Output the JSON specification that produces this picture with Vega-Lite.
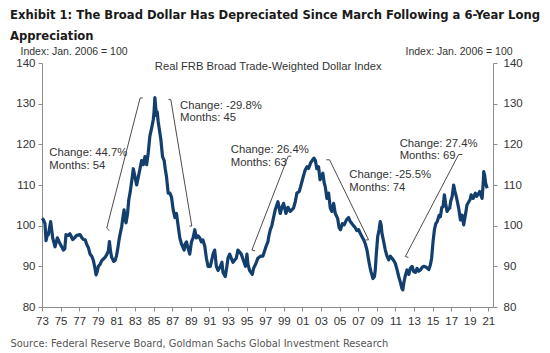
{
  "$schema": "https://vega.github.io/schema/vega-lite/v6.json",
  "width": 451,
  "height": 244,
  "autosize": "none",
  "padding": {"left": 42, "top": 63, "right": 57, "bottom": 46},
  "background": "white",
  "title": {
    "text": ["Exhibit 1: The Broad Dollar Has Depreciated Since March Following a 6-Year Long", "Appreciation"],
    "anchor": "start",
    "frame": "group",
    "dx": -32,
    "font": "DejaVu Sans Condensed, Liberation Sans",
    "fontWeight": "bold",
    "fontSize": 12.9,
    "lineHeight": 21,
    "color": "#1a1a1a",
    "offset": 3
  },
  "config": {
    "view": {"stroke": null},
    "axis": {
      "grid": false,
      "labelFont": "Liberation Sans",
      "labelFontSize": 11.5,
      "labelColor": "#333333",
      "domainColor": "#8c8c8c",
      "tickColor": "#8c8c8c",
      "tickSize": 4,
      "titleFont": "Liberation Sans",
      "titleFontSize": 10.5,
      "titleFontWeight": "normal",
      "titleColor": "#333333"
    }
  },
  "datasets": {
    "series": [
      {"year": 1973.0, "value": 101.8}, {"year": 1973.14, "value": 101.5}, {"year": 1973.32, "value": 100.5}, {"year": 1973.43, "value": 96.3},
      {"year": 1973.55, "value": 97.5}, {"year": 1973.68, "value": 97.8}, {"year": 1973.85, "value": 100}, {"year": 1973.93, "value": 101},
      {"year": 1974.15, "value": 97}, {"year": 1974.4, "value": 94.8}, {"year": 1974.65, "value": 97}, {"year": 1974.85, "value": 96},
      {"year": 1975.0, "value": 95.3}, {"year": 1975.3, "value": 94}, {"year": 1975.45, "value": 94.3}, {"year": 1975.58, "value": 97.8},
      {"year": 1975.8, "value": 97.6}, {"year": 1976.0, "value": 98}, {"year": 1976.3, "value": 96.6}, {"year": 1976.5, "value": 97},
      {"year": 1976.73, "value": 97.6}, {"year": 1977.09, "value": 97.8}, {"year": 1977.3, "value": 97}, {"year": 1977.45, "value": 96.6},
      {"year": 1977.65, "value": 96.5}, {"year": 1977.81, "value": 95.4}, {"year": 1978.0, "value": 94.5}, {"year": 1978.17, "value": 93},
      {"year": 1978.35, "value": 92.5}, {"year": 1978.53, "value": 91.4}, {"year": 1978.7, "value": 89.5}, {"year": 1978.81, "value": 87.9},
      {"year": 1978.95, "value": 88.8}, {"year": 1979.06, "value": 90}, {"year": 1979.25, "value": 90.5}, {"year": 1979.42, "value": 91.4},
      {"year": 1979.6, "value": 91.8}, {"year": 1979.78, "value": 92.2}, {"year": 1979.95, "value": 92.8}, {"year": 1980.14, "value": 93.8},
      {"year": 1980.25, "value": 96.1}, {"year": 1980.38, "value": 93.5}, {"year": 1980.5, "value": 92.2}, {"year": 1980.7, "value": 91.2},
      {"year": 1980.86, "value": 91.4}, {"year": 1981.0, "value": 92.5}, {"year": 1981.11, "value": 93.8}, {"year": 1981.32, "value": 97},
      {"year": 1981.57, "value": 99.8}, {"year": 1981.7, "value": 102}, {"year": 1981.83, "value": 103.9}, {"year": 1981.95, "value": 101.5},
      {"year": 1982.04, "value": 100.7}, {"year": 1982.2, "value": 103}, {"year": 1982.33, "value": 106.3}, {"year": 1982.5, "value": 108.5},
      {"year": 1982.65, "value": 111}, {"year": 1982.82, "value": 114}, {"year": 1983.0, "value": 112}, {"year": 1983.18, "value": 110},
      {"year": 1983.36, "value": 112}, {"year": 1983.54, "value": 114}, {"year": 1983.71, "value": 116}, {"year": 1983.89, "value": 115},
      {"year": 1984.07, "value": 117}, {"year": 1984.25, "value": 115}, {"year": 1984.43, "value": 118}, {"year": 1984.6, "value": 122},
      {"year": 1984.79, "value": 124}, {"year": 1984.96, "value": 126}, {"year": 1985.05, "value": 128}, {"year": 1985.14, "value": 131.5},
      {"year": 1985.25, "value": 128.5}, {"year": 1985.32, "value": 127}, {"year": 1985.39, "value": 128}, {"year": 1985.5, "value": 125.5},
      {"year": 1985.6, "value": 124}, {"year": 1985.79, "value": 121}, {"year": 1985.96, "value": 117}, {"year": 1986.14, "value": 116},
      {"year": 1986.25, "value": 114}, {"year": 1986.39, "value": 112}, {"year": 1986.57, "value": 108}, {"year": 1986.75, "value": 108},
      {"year": 1986.93, "value": 107}, {"year": 1987.1, "value": 104}, {"year": 1987.29, "value": 102}, {"year": 1987.46, "value": 103},
      {"year": 1987.64, "value": 100}, {"year": 1987.82, "value": 97}, {"year": 1988.0, "value": 95.5}, {"year": 1988.1, "value": 95},
      {"year": 1988.29, "value": 94}, {"year": 1988.4, "value": 95.5}, {"year": 1988.54, "value": 96}, {"year": 1988.7, "value": 94.5},
      {"year": 1988.89, "value": 93}, {"year": 1989.07, "value": 96}, {"year": 1989.25, "value": 97}, {"year": 1989.43, "value": 99},
      {"year": 1989.6, "value": 97}, {"year": 1989.78, "value": 97.5}, {"year": 1989.96, "value": 97}, {"year": 1990.14, "value": 96},
      {"year": 1990.3, "value": 96.5}, {"year": 1990.5, "value": 95}, {"year": 1990.68, "value": 92}, {"year": 1990.86, "value": 90},
      {"year": 1991.1, "value": 90}, {"year": 1991.25, "value": 91.5}, {"year": 1991.39, "value": 93}, {"year": 1991.57, "value": 94},
      {"year": 1991.75, "value": 90}, {"year": 1991.93, "value": 89}, {"year": 1992.18, "value": 90}, {"year": 1992.35, "value": 91},
      {"year": 1992.46, "value": 88.5}, {"year": 1992.71, "value": 87.5}, {"year": 1992.85, "value": 89.5}, {"year": 1993.0, "value": 92},
      {"year": 1993.18, "value": 93}, {"year": 1993.35, "value": 92}, {"year": 1993.54, "value": 91}, {"year": 1993.7, "value": 91.5},
      {"year": 1993.89, "value": 92}, {"year": 1994.07, "value": 94}, {"year": 1994.25, "value": 93.5}, {"year": 1994.43, "value": 93},
      {"year": 1994.65, "value": 91.5}, {"year": 1994.89, "value": 90}, {"year": 1995.04, "value": 93}, {"year": 1995.15, "value": 90.5},
      {"year": 1995.32, "value": 89}, {"year": 1995.61, "value": 88}, {"year": 1995.75, "value": 89.5}, {"year": 1995.86, "value": 90},
      {"year": 1996.05, "value": 91}, {"year": 1996.21, "value": 92}, {"year": 1996.5, "value": 92.5}, {"year": 1996.75, "value": 92.5},
      {"year": 1996.9, "value": 93.5}, {"year": 1997.11, "value": 95}, {"year": 1997.29, "value": 96}, {"year": 1997.4, "value": 97.5},
      {"year": 1997.55, "value": 99}, {"year": 1997.7, "value": 99.8}, {"year": 1997.85, "value": 101.5}, {"year": 1998.08, "value": 103.9},
      {"year": 1998.37, "value": 105.9}, {"year": 1998.62, "value": 103}, {"year": 1998.8, "value": 104.5}, {"year": 1998.98, "value": 105.5},
      {"year": 1999.23, "value": 103}, {"year": 1999.45, "value": 104.5}, {"year": 1999.7, "value": 103.5}, {"year": 2000.05, "value": 104.3},
      {"year": 2000.25, "value": 106}, {"year": 2000.41, "value": 108}, {"year": 2000.66, "value": 108.4}, {"year": 2000.8, "value": 109.5},
      {"year": 2000.95, "value": 110.8}, {"year": 2001.15, "value": 112.5}, {"year": 2001.3, "value": 113.7}, {"year": 2001.5, "value": 114.5},
      {"year": 2001.67, "value": 114.1}, {"year": 2001.9, "value": 115.5}, {"year": 2002.1, "value": 116.2}, {"year": 2002.25, "value": 116.6},
      {"year": 2002.4, "value": 116}, {"year": 2002.55, "value": 114}, {"year": 2002.74, "value": 114.5}, {"year": 2002.9, "value": 111.3},
      {"year": 2003.05, "value": 112}, {"year": 2003.2, "value": 112.9}, {"year": 2003.35, "value": 110.5}, {"year": 2003.46, "value": 109.6},
      {"year": 2003.64, "value": 106.7}, {"year": 2003.82, "value": 108}, {"year": 2004.0, "value": 104.3}, {"year": 2004.18, "value": 103.5},
      {"year": 2004.36, "value": 105.5}, {"year": 2004.54, "value": 103}, {"year": 2004.79, "value": 101.8}, {"year": 2004.95, "value": 99.5},
      {"year": 2005.1, "value": 99}, {"year": 2005.3, "value": 100.5}, {"year": 2005.5, "value": 100.2}, {"year": 2005.75, "value": 101.5},
      {"year": 2005.97, "value": 102}, {"year": 2006.15, "value": 101}, {"year": 2006.33, "value": 100.5}, {"year": 2006.5, "value": 100},
      {"year": 2006.69, "value": 99.5}, {"year": 2006.85, "value": 98.8}, {"year": 2007.05, "value": 99}, {"year": 2007.25, "value": 98},
      {"year": 2007.41, "value": 97.3}, {"year": 2007.6, "value": 96.5}, {"year": 2007.77, "value": 95.5}, {"year": 2007.95, "value": 94},
      {"year": 2008.13, "value": 91.5}, {"year": 2008.25, "value": 90}, {"year": 2008.38, "value": 88.7}, {"year": 2008.59, "value": 87},
      {"year": 2008.75, "value": 87.5}, {"year": 2008.84, "value": 89.1}, {"year": 2008.95, "value": 93}, {"year": 2009.1, "value": 97.3},
      {"year": 2009.25, "value": 99}, {"year": 2009.38, "value": 101}, {"year": 2009.48, "value": 100}, {"year": 2009.56, "value": 98.1},
      {"year": 2009.75, "value": 96}, {"year": 2009.92, "value": 94}, {"year": 2010.1, "value": 92.5}, {"year": 2010.28, "value": 91.6},
      {"year": 2010.45, "value": 92.5}, {"year": 2010.64, "value": 92}, {"year": 2010.8, "value": 91.5}, {"year": 2011.0, "value": 90.7},
      {"year": 2011.2, "value": 89}, {"year": 2011.36, "value": 87.5}, {"year": 2011.55, "value": 86}, {"year": 2011.71, "value": 84.5},
      {"year": 2011.8, "value": 84.2}, {"year": 2011.9, "value": 85.8}, {"year": 2012.05, "value": 87.5}, {"year": 2012.25, "value": 89.1},
      {"year": 2012.45, "value": 88}, {"year": 2012.61, "value": 89.5}, {"year": 2012.8, "value": 90}, {"year": 2012.97, "value": 88.7},
      {"year": 2013.15, "value": 88.5}, {"year": 2013.33, "value": 89.5}, {"year": 2013.5, "value": 88.8}, {"year": 2013.69, "value": 89.1},
      {"year": 2013.9, "value": 89.8}, {"year": 2014.05, "value": 90}, {"year": 2014.23, "value": 89.9}, {"year": 2014.45, "value": 89.5},
      {"year": 2014.6, "value": 89.2}, {"year": 2014.76, "value": 90.3}, {"year": 2014.9, "value": 92}, {"year": 2015.05, "value": 96},
      {"year": 2015.2, "value": 99}, {"year": 2015.35, "value": 100.5}, {"year": 2015.5, "value": 101}, {"year": 2015.7, "value": 102.5},
      {"year": 2015.84, "value": 102.2}, {"year": 2016.0, "value": 104.5}, {"year": 2016.13, "value": 104.7}, {"year": 2016.27, "value": 107.6},
      {"year": 2016.4, "value": 105.5}, {"year": 2016.56, "value": 103.5}, {"year": 2016.7, "value": 104}, {"year": 2016.84, "value": 104.3},
      {"year": 2016.95, "value": 106}, {"year": 2017.1, "value": 107.1}, {"year": 2017.27, "value": 110}, {"year": 2017.4, "value": 108.5},
      {"year": 2017.56, "value": 107.1}, {"year": 2017.7, "value": 105.5}, {"year": 2017.81, "value": 104.3}, {"year": 2018.0, "value": 101.4},
      {"year": 2018.17, "value": 102.6}, {"year": 2018.35, "value": 100.2}, {"year": 2018.53, "value": 102.6}, {"year": 2018.7, "value": 105.1},
      {"year": 2018.9, "value": 105.9}, {"year": 2019.05, "value": 106.5}, {"year": 2019.15, "value": 107.6}, {"year": 2019.37, "value": 106.7},
      {"year": 2019.6, "value": 108}, {"year": 2019.75, "value": 107.2}, {"year": 2019.86, "value": 107.6}, {"year": 2020.07, "value": 108.4},
      {"year": 2020.2, "value": 107.5}, {"year": 2020.33, "value": 106.7}, {"year": 2020.45, "value": 110.5}, {"year": 2020.5, "value": 113.3},
      {"year": 2020.6, "value": 112.5}, {"year": 2020.7, "value": 110.5}, {"year": 2020.87, "value": 109.2}
    ],
    "brackets": [
      {"g": 1, "o": 1, "year": 1980.24, "value": 98.8}, {"g": 1, "o": 2, "year": 1979.96, "value": 99.4},
      {"g": 1, "o": 3, "year": 1983.55, "value": 131.4}, {"g": 1, "o": 4, "year": 1983.84, "value": 131.4},
      {"g": 2, "o": 1, "year": 1986.6, "value": 131.0}, {"g": 2, "o": 2, "year": 1986.85, "value": 131.0},
      {"g": 2, "o": 3, "year": 1989.11, "value": 99.9}, {"g": 2, "o": 4, "year": 1988.86, "value": 99.9},
      {"g": 3, "o": 1, "year": 1995.92, "value": 93.8}, {"g": 3, "o": 2, "year": 1995.57, "value": 94.0},
      {"g": 3, "o": 3, "year": 1999.48, "value": 117.1}, {"g": 3, "o": 4, "year": 1999.8, "value": 117.1},
      {"g": 4, "o": 1, "year": 2003.57, "value": 116.2}, {"g": 4, "o": 2, "year": 2003.92, "value": 116.2},
      {"g": 4, "o": 3, "year": 2008.12, "value": 96.5}, {"g": 4, "o": 4, "year": 2007.8, "value": 96.5},
      {"g": 5, "o": 1, "year": 2012.4, "value": 92.2}, {"g": 5, "o": 2, "year": 2012.07, "value": 92.4},
      {"g": 5, "o": 3, "year": 2017.81, "value": 117.5}, {"g": 5, "o": 4, "year": 2018.2, "value": 117.5}
    ],
    "notes": [
      {"year": 1973.79, "value": 117.8, "label": "Change: 44.7%\nMonths: 54"},
      {"year": 1987.85, "value": 129.5, "label": "Change: -29.8%\nMonths: 45"},
      {"year": 1993.31, "value": 118.6, "label": "Change: 26.4%\nMonths: 63"},
      {"year": 2006.05, "value": 112.4, "label": "Change: -25.5%\nMonths: 74"},
      {"year": 2011.46, "value": 120.1, "label": "Change: 27.4%\nMonths: 69"}
    ]
  },
  "encoding": {
    "x": {
      "field": "year", "type": "quantitative",
      "scale": {"domain": [1973, 2021.5], "nice": false, "zero": false},
      "axis": {
        "orient": "bottom",
        "values": [1973, 1975, 1977, 1979, 1981, 1983, 1985, 1987, 1989, 1991, 1993, 1995, 1997, 1999, 2001, 2003, 2005, 2007, 2009, 2011, 2013, 2015, 2017, 2019, 2021],
        "labelExpr": "substring(toString(datum.value), 2, 4)",
        "labelFlush": false,
        "labelOverlap": false,
        "labelPadding": 4,
        "title": "Source: Federal Reserve Board, Goldman Sachs Global Investment Research",
        "titleFont": "DejaVu Sans Condensed, Liberation Sans",
        "titleFontSize": 11,
        "titleColor": "#555555",
        "titleAlign": "left",
        "titleBaseline": "middle",
        "titleX": -32,
        "titleY": 36
      }
    }
  },
  "resolve": {"axis": {"y": "independent"}},
  "layer": [
    {
      "data": {"name": "series"},
      "mark": {"type": "line", "color": "#123f6e", "strokeWidth": 3.2, "strokeJoin": "round"},
      "encoding": {
        "y": {
          "field": "value", "type": "quantitative",
          "scale": {"domain": [80, 140], "nice": false, "zero": false},
          "axis": {
            "orient": "left",
            "values": [80, 90, 100, 110, 120, 130, 140],
            "labelPadding": 3,
            "title": "Index: Jan. 2006 = 100",
            "titleAngle": 0,
            "titleAlign": "left",
            "titleBaseline": "middle",
            "titleX": -22,
            "titleY": -12
          }
        }
      }
    },
    {
      "data": {"name": "brackets"},
      "mark": {"type": "line", "color": "#4d4d4d", "strokeWidth": 1},
      "encoding": {
        "y": {
          "field": "value", "type": "quantitative",
          "scale": {"domain": [80, 140], "nice": false, "zero": false},
          "axis": {
            "orient": "right",
            "values": [80, 90, 100, 110, 120, 130, 140],
            "labelPadding": 6,
            "title": "Index: Jan. 2006 = 100",
            "titleAngle": 0,
            "titleAlign": "left",
            "titleBaseline": "middle",
            "titleX": -88,
            "titleY": -12
          }
        },
        "detail": {"field": "g", "type": "nominal"},
        "order": {"field": "o", "type": "quantitative"}
      }
    },
    {
      "data": {"name": "notes"},
      "mark": {"type": "text", "align": "left", "baseline": "middle", "lineBreak": "\n", "lineHeight": 12.5, "font": "Liberation Sans", "fontSize": 11.3, "color": "#333333"},
      "encoding": {
        "y": {"field": "value", "type": "quantitative", "scale": {"domain": [80, 140], "nice": false, "zero": false}, "axis": null},
        "text": {"field": "label"}
      }
    },
    {
      "data": {"values": [{"year": 1997.33, "value": 139.0, "label": "Real FRB Broad Trade-Weighted Dollar Index"}]},
      "mark": {"type": "text", "align": "center", "baseline": "middle", "font": "Liberation Sans", "fontSize": 11.2, "color": "#333333"},
      "encoding": {
        "y": {"field": "value", "type": "quantitative", "scale": {"domain": [80, 140], "nice": false, "zero": false}, "axis": null},
        "text": {"field": "label"}
      }
    }
  ]
}
